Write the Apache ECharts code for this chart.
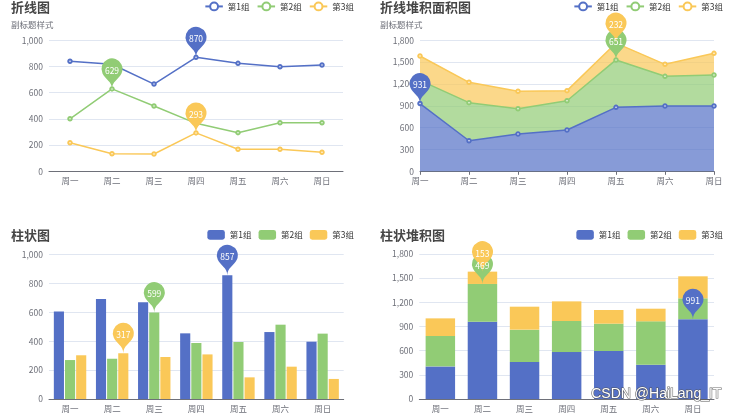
<!DOCTYPE html>
<html>
<head>
<meta charset="utf-8">
<script src="https://cdn.jsdelivr.net/npm/echarts@6/dist/echarts.min.js"></script>
<style>
html,body{margin:0;padding:0;background:#fff;width:737px;height:413px;overflow:hidden;}
.c{position:absolute;}
</style>
</head>
<body>
<div id="c1" class="c" style="left:0;top:0;width:368px;height:210px;"></div>
<div id="c2" class="c" style="left:369px;top:0;width:368px;height:210px;"></div>
<div id="c3" class="c" style="left:0;top:210px;width:368px;height:203px;"></div>
<div id="c4" class="c" style="left:369px;top:210px;width:368px;height:203px;"></div>
<script>
const categories = ['周一','周二','周三','周四','周五','周六','周日'];
const seriesNames = ['第1组','第2组','第3组'];
const colors = ['#5470c6','#91cc75','#fac858'];

const line1 = [840, 817, 666, 870, 824, 798, 811];
const line2 = [401, 629, 498, 366, 295, 371, 371];
const line3 = [218, 134, 132, 293, 168, 168, 145];

const area1 = [931, 420, 513, 568, 879, 897, 897];
const area2 = [319, 523, 347, 402, 651, 408, 426];
const area3 = [334, 280, 239, 138, 232, 165, 298];

const bar1 = [607, 693, 670, 455, 857, 464, 397];
const bar2 = [270, 279, 599, 388, 395, 515, 453];
const bar3 = [303, 317, 291, 309, 150, 224, 139];

const stack1 = [405, 959, 459, 583, 596, 426, 991];
const stack2 = [377, 469, 402, 385, 339, 538, 259];
const stack3 = [219, 153, 285, 244, 170, 157, 273];

const FONT = "'Noto Sans CJK SC', 'Noto Sans', sans-serif";
const FS = 8.5;

function titleOpt(text, sub, top) {
  return {
    text: text, subtext: sub || '', left: 11, top: top, padding: 0, itemGap: 6.5,
    textStyle: {fontSize: 13, fontWeight: 'bold', color: '#464646', fontFamily: FONT},
    subtextStyle: {fontSize: FS, color: '#6E7079', fontFamily: FONT}
  };
}
function legendOpt(top, isBar) {
  const o = {
    data: seriesNames, right: 14, top: top, padding: 0,
    itemWidth: 17.5, itemHeight: 9.8, itemGap: 7,
    textStyle: {fontSize: FS, color: '#333', fontFamily: FONT}
  };
  if (isBar) o.icon = 'roundRect';
  return o;
}
function xAxisOpt(boundaryGap) {
  return {
    type: 'category', data: categories, boundaryGap: boundaryGap,
    axisLine: {lineStyle: {color: '#6E7079', width: 1}},
    axisTick: {length: 3.5, lineStyle: {color: '#6E7079'}, alignWithLabel: false},
    axisLabel: {fontSize: FS, color: '#6E7079', margin: 5.6, interval: 0, fontFamily: FONT}
  };
}
function yAxisOpt(max, interval) {
  return {
    type: 'value', min: 0, max: max, interval: interval,
    axisLine: {show: false}, axisTick: {show: false},
    axisLabel: {fontSize: FS, color: '#6E7079', margin: 6, fontFamily: FONT},
    splitLine: {lineStyle: {color: '#E0E6F1', width: 1}}
  };
}
const markP = {
  symbolSize: 35,
  label: {fontSize: FS, color: '#fff', fontFamily: FONT},
  data: [{type: 'max'}]
};

function lineSeries(name, data, color, stacked) {
  const s = {
    name: name, type: 'line', data: data, color: color,
    symbol: 'emptyCircle', symbolSize: 3.5,
    lineStyle: {width: 1.5, color: color},
    itemStyle: {color: color},
    markPoint: markP
  };
  if (stacked) {
    s.stack = 'total';
    s.areaStyle = {opacity: 0.7, color: color};
  }
  return s;
}
function barSeries(name, data, color, stacked) {
  const s = {
    name: name, type: 'bar', data: data, itemStyle: {color: color},
    markPoint: markP
  };
  if (stacked) { s.stack = 'total'; s.barCategoryGap = '30%'; }
  return s;
}

const c1 = echarts.init(document.getElementById('c1'));
c1.setOption({
  animation: false, color: colors,
  textStyle: {fontFamily: FONT},
  title: titleOpt('折线图', '副标题样式', 1),
  legend: legendOpt(1.5, false),
  grid: {left: 49, top: 40.3, width: 294, height: 131, outerBoundsMode: 'none'},
  xAxis: xAxisOpt(true),
  yAxis: yAxisOpt(1000, 200),
  series: [
    lineSeries(seriesNames[0], line1, colors[0], false),
    lineSeries(seriesNames[1], line2, colors[1], false),
    lineSeries(seriesNames[2], line3, colors[2], false)
  ]
});

const c2 = echarts.init(document.getElementById('c2'));
c2.setOption({
  animation: false, color: colors,
  textStyle: {fontFamily: FONT},
  title: titleOpt('折线堆积面积图', '副标题样式', 1),
  legend: legendOpt(1.5, false),
  grid: {left: 51, top: 40.3, width: 294, height: 131, outerBoundsMode: 'none'},
  xAxis: xAxisOpt(false),
  yAxis: yAxisOpt(1800, 300),
  series: [
    lineSeries(seriesNames[0], area1, colors[0], true),
    lineSeries(seriesNames[1], area2, colors[1], true),
    lineSeries(seriesNames[2], area3, colors[2], true)
  ]
});

const c3 = echarts.init(document.getElementById('c3'));
c3.setOption({
  animation: false, color: colors,
  textStyle: {fontFamily: FONT},
  title: titleOpt('柱状图', '', 19),
  legend: legendOpt(20, true),
  grid: {left: 49, top: 44.7, width: 294.7, height: 144.3, outerBoundsMode: 'none'},
  xAxis: xAxisOpt(true),
  yAxis: yAxisOpt(1000, 200),
  series: [
    barSeries(seriesNames[0], bar1, colors[0], false),
    barSeries(seriesNames[1], bar2, colors[1], false),
    barSeries(seriesNames[2], bar3, colors[2], false)
  ]
});

const c4 = echarts.init(document.getElementById('c4'));
c4.setOption({
  animation: false, color: colors,
  textStyle: {fontFamily: FONT},
  title: titleOpt('柱状堆积图', '', 19),
  legend: legendOpt(20, true),
  grid: {left: 50.3, top: 44, width: 294.7, height: 145, outerBoundsMode: 'none'},
  xAxis: xAxisOpt(true),
  yAxis: yAxisOpt(1800, 300),
  series: [
    barSeries(seriesNames[0], stack1, colors[0], true),
    barSeries(seriesNames[1], stack2, colors[1], true),
    barSeries(seriesNames[2], stack3, colors[2], true)
  ],
  graphic: [{
    type: 'text', right: 15, top: 177, z: 100,
    style: {text: 'CSDN @HaiLang_IT', fontSize: 14, fontFamily: "'Liberation Sans', Arial, sans-serif",
      fill: '#ffffff', stroke: 'rgba(80,80,80,0.85)', lineWidth: 1.2}
  }]
});
</script>
</body>
</html>
